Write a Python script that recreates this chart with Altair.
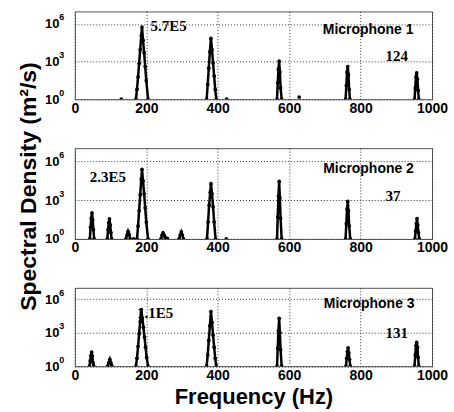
import altair as alt
import pandas as pd

SANS = "Liberation Sans"
SERIF = "Liberation Serif"

FREQ_TICKS = [0, 200, 400, 600, 800, 1000]
PSD_TICKS = [1, 1e3, 1e6]

# Microphone 1: sampled spectrum around each harmonic, one list per peak
mic1_freq = [
    [171, 174, 177, 180, 183, 186, 188, 191, 194, 197, 200, 205],
    [369, 372, 375, 378, 381, 384, 387, 390, 393, 396],
    [566, 568, 570, 572, 574, 576, 579],
    [758, 760, 762, 764, 766, 768, 770],
    [951, 953, 955, 957, 959, 961, 963],
    [130], [425], [628],
]
mic1_psd = [
    [1, 6, 60, 700, 9000, 1.2e5, 5.7e5, 5e4, 5000, 400, 30, 1],
    [1, 15, 300, 6000, 7e4, 9000, 800, 70, 6, 1],
    [1, 20, 250, 1100, 150, 8, 1],
    [1, 12, 150, 400, 90, 6, 1],
    [1, 8, 60, 124, 40, 5, 1],
    [1], [1], [1.5],
]

# Microphone 2
mic2_freq = [
    [42, 44, 46, 48, 50, 52, 54],
    [91, 93, 95, 97, 99, 101, 103],
    [143, 146, 149, 152, 155],
    [165],
    [174, 177, 180, 183, 186, 188, 191, 194, 197, 200, 205],
    [241, 244, 247, 250, 253, 256],
    [259],
    [292, 295, 298, 301, 304],
    [370, 373, 376, 379, 381, 384, 387, 390, 394],
    [424],
    [566, 568, 570, 572, 574, 576, 579],
    [758, 760, 762, 764, 766, 768, 771],
    [952, 954, 956, 958, 960, 962, 964],
]
mic2_psd = [
    [1, 8, 40, 100, 30, 5, 1],
    [1, 5, 18, 35, 12, 3, 1],
    [1, 2, 3.8, 2.2, 1],
    [1],
    [1, 10, 150, 2500, 4e4, 2.3e5, 3e4, 3000, 250, 20, 1],
    [1, 2, 2.9, 2, 1.3, 1],
    [1.1],
    [1, 2, 3.5, 2, 1],
    [1, 20, 400, 4000, 1.8e4, 3000, 300, 20, 1],
    [1],
    [1, 50, 2000, 2.7e4, 1500, 40, 1],
    [1, 15, 200, 780, 150, 10, 1],
    [1, 4, 15, 37, 12, 3, 1],
]

# Microphone 3
mic3_freq = [
    [41, 43, 45, 47, 49, 51, 53],
    [92, 95, 98, 101, 104],
    [171, 174, 177, 180, 183, 186, 189, 192, 195, 198, 201, 205],
    [369, 372, 375, 378, 381, 384, 387, 390, 393, 396],
    [566, 568, 570, 572, 574, 576, 579],
    [759, 761, 763, 765, 767, 769, 771],
    [951, 953, 955, 957, 959, 961, 963],
]
mic3_psd = [
    [1, 3, 9, 18, 8, 2, 1],
    [1, 2, 4, 2, 1],
    [1, 5, 60, 800, 1e4, 1.1e5, 2e4, 3000, 400, 50, 6, 1],
    [1, 10, 200, 4000, 7.6e4, 8000, 600, 50, 5, 1],
    [1, 40, 1500, 1.9e4, 1000, 30, 1],
    [1, 5, 20, 44, 15, 4, 1],
    [1, 10, 70, 131, 50, 6, 1],
]

# Annotations per panel: (text, freq, psd, font, size, align)
mic1_notes = [
    ("5.7E5", 212, 7.0e5, SERIF, 15, "left"),
    ("Microphone 1", 948, 3.6e5, SANS, 14, "right"),
    ("124", 870, 2.8e3, SERIF, 15, "left"),
]
mic2_notes = [
    ("2.3E5", 42, 6.2e4, SERIF, 15, "left"),
    ("Microphone 2", 949, 2.4e5, SANS, 14, "right"),
    ("37", 870, 2.0e3, SERIF, 15, "left"),
]
mic3_notes = [
    ("1.1E5", 174, 5.9e4, SERIF, 15, "left"),
    ("Microphone 3", 951, 3.6e5, SANS, 14, "right"),
    ("131", 870, 9.3e2, SERIF, 15, "left"),
]

# y tick labels are drawn as a base "10" plus a raised exponent
exponent_expr = "datum.value < 10 ? '0' : datum.value < 1e4 ? '3' : '6'"
GRID = dict(gridColor="#333", gridDash=[1, 2], gridWidth=1)


def panel(freqs, psds, notes, height, xtitle=None, ytitle=None):
    rows = []
    for seg, (fs, ps) in enumerate(zip(freqs, psds)):
        rows += [{"freq": f, "psd": p, "seg": seg} for f, p in zip(fs, ps)]
    df = pd.DataFrame(rows)

    xaxis = dict(values=FREQ_TICKS, format="d", labelFont=SANS, labelFontSize=14,
                 labelFontWeight="bold", labelColor="black", labelPadding=2,
                 labelFlush=False, labelOverlap=False, ticks=False, domain=False,
                 grid=True, **GRID)
    if xtitle:
        xaxis.update(title=xtitle, titleFont=SANS, titleFontSize=22,
                     titleFontWeight="bold", titleColor="black",
                     titleBaseline="alphabetic", titleY=37.5)
    else:
        xaxis.update(title=None)

    yaxis = dict(values=PSD_TICKS, labelExpr="'10'", labelFont=SANS,
                 labelFontSize=13, labelFontWeight="bold", labelColor="black",
                 labelPadding=16, ticks=False, domain=False, grid=True, **GRID)
    if ytitle:
        yaxis.update(title=ytitle, titleFont=SANS, titleFontSize=23,
                     titleFontWeight="bold", titleColor="black",
                     titleAngle=270, titleBaseline="bottom", titleAlign="center",
                     titleX=-34, titleY=38)
    else:
        yaxis.update(title=None)

    exp_axis = alt.Axis(values=PSD_TICKS, labelExpr=exponent_expr, labelFont=SANS,
                        labelFontSize=9, labelFontWeight="bold", labelColor="black",
                        labelAlign="left", labelPadding=16, labelOffset=-7,
                        orient="left", ticks=False, domain=False, grid=False,
                        title=None)

    xscale = alt.Scale(domain=[0, 1000], nice=False)
    yscale = alt.Scale(type="log", domain=[1, 1e7], nice=False)
    x = alt.X("freq:Q", scale=xscale, axis=alt.Axis(**xaxis))
    y = alt.Y("psd:Q", scale=yscale, axis=alt.Axis(**yaxis))

    base = alt.Chart(df)
    line = base.mark_line(color="black", strokeWidth=2.5, clip=True).encode(
        x=x, y=y, detail="seg:N")
    pts = base.mark_point(filled=True, size=14, color="black", opacity=1,
                          clip=True).encode(
        x=alt.X("freq:Q", scale=xscale),
        y=alt.Y("psd:Q", scale=yscale, axis=exp_axis))

    layers = [line, pts]
    for text, f, p, font, size, align in notes:
        nd = pd.DataFrame({"freq": [f], "psd": [p], "label": [text]})
        layers.append(
            alt.Chart(nd).mark_text(font=font, fontSize=size, fontWeight="bold",
                                    color="black", align=align, baseline="middle")
            .encode(x=alt.X("freq:Q", scale=xscale),
                    y=alt.Y("psd:Q", scale=yscale, axis=None),
                    text="label:N")
        )
    return (alt.layer(*layers)
            .resolve_axis(y="independent")
            .properties(width=358, height=height))


p1 = panel(mic1_freq, mic1_psd, mic1_notes, 88)
p2 = panel(mic2_freq, mic2_psd, mic2_notes, 91, ytitle="Spectral Density (m²/s)")
p3 = panel(mic3_freq, mic3_psd, mic3_notes, 78.5, xtitle="Frequency (Hz)")

chart = (
    alt.vconcat(p1, p2, p3, spacing=49, bounds="flush")
    .properties(padding={"left": 17, "top": 10, "right": 5, "bottom": 5},
                background="white")
    .configure_view(stroke="#555", strokeWidth=1)
)

chart.save("out.html", embed_options={"renderer": "svg", "actions": False})
